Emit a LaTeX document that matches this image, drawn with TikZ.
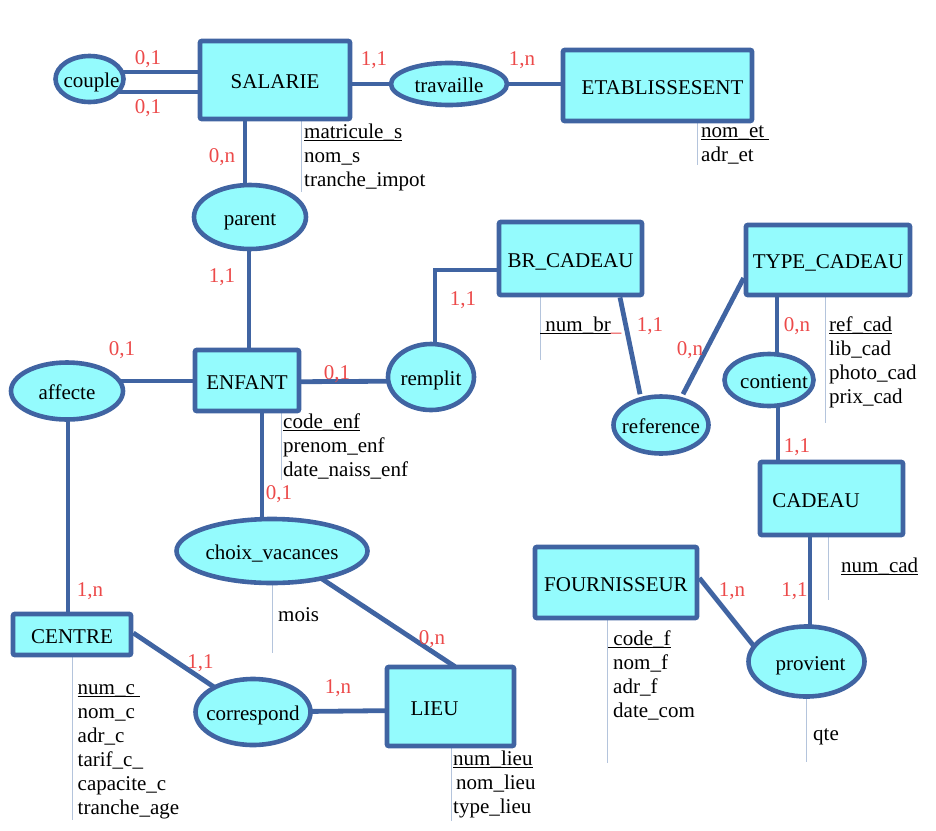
\documentclass[tikz,border=0pt]{standalone}
\usepackage{fontspec}
\setmainfont{Liberation Serif}
\usetikzlibrary{shapes.geometric}
\pgfdeclarelayer{background}
\pgfsetlayers{background,main}
\definecolor{erfill}{HTML}{94FBFD}
\definecolor{erline}{HTML}{4064A2}
\definecolor{cardred}{HTML}{EC4A4A}
\definecolor{attrgray}{HTML}{B4C4DC}
% underline drawn at the level of the underscore glyph
\newcommand\uln[1]{\setbox0\hbox{#1}\rlap{\rule[-2.7pt]{\wd0}{0.9pt}}\box0}
\begin{document}
\begin{tikzpicture}[x=1pt,y=-1pt,
  every node/.style={font=\fontsize{21}{24}\selectfont},
  boxtext/.style={text height=17pt, text depth=0pt},
  entity/.style={draw=erline, fill=erfill, line width=4.8pt, rounded corners=2pt, inner sep=0pt, boxtext},
  relation/.style={draw=erline, fill=erfill, line width=4.6pt, ellipse, inner sep=0pt, boxtext},
  link/.style={draw=erline, line width=4.8pt},
  attrline/.style={draw=attrgray, line width=0.9pt},
  card/.style={anchor=base, text=cardred, inner sep=0pt},
  attr/.style={anchor=base west, inner sep=0pt}]
\useasboundingbox (0,0) rectangle (936,830);

% ---------- entities ----------
\node[entity, minimum width=150, minimum height=78] (salarie) at (275,80) {SALARIE};
\node[entity, minimum width=189, minimum height=71,
      label={[xshift=5,boxtext]center:ETABLISSESENT}] (etab) at (657.5,85.5) {};
\node[entity, minimum width=104, minimum height=61] (enfant) at (247,380.5) {ENFANT};
\node[entity, minimum width=143, minimum height=73] (brcadeau) at (570.5,258.5) {BR\_CADEAU};
\node[entity, minimum width=164, minimum height=70] (typecadeau) at (828,260) {TYPE\_CADEAU};
\node[entity, minimum width=143, minimum height=73,
      label={[xshift=-15.5,boxtext]center:CADEAU}] (cadeau) at (831.5,498.5) {};
\node[entity, minimum width=162, minimum height=71] (fournisseur) at (616,582.5) {FOURNISSEUR};
\node[entity, minimum width=118, minimum height=41] (centre) at (72,634.5) {CENTRE};
\node[entity, minimum width=127, minimum height=79,
      label={[xshift=-16,boxtext]center:LIEU}] (lieu) at (450.5,706.5) {};

% ---------- relations ----------
\node[relation, minimum width=68, minimum height=46] (couple) at (89.5,79) {\makebox[0pt]{\hspace{4pt}couple}};
\node[relation, minimum width=116, minimum height=42] (travaille) at (449,84) {\makebox[0pt]{travaille}};
\node[relation, minimum width=112, minimum height=64] (parent) at (250,217) {\makebox[0pt]{parent}};
\node[relation, minimum width=112, minimum height=57] (affecte) at (67,391) {\makebox[0pt]{affecte}};
\node[relation, minimum width=86, minimum height=66] (remplit) at (431,377) {\makebox[0pt]{remplit}};
\node[relation, minimum width=95, minimum height=57] (reference) at (661,425) {\makebox[0pt]{reference}};
\node[relation, minimum width=89, minimum height=52] (contient) at (769,380) {\makebox[0pt]{\hspace{10pt}contient}};
\node[relation, minimum width=191, minimum height=64] (choix) at (272,551) {\makebox[0pt]{choix\_vacances}};
\node[relation, minimum width=115, minimum height=66] (correspond) at (253,712) {\makebox[0pt]{correspond}};
\node[relation, minimum width=116, minimum height=70] (provient) at (806.5,661.5) {\makebox[0pt]{\hspace{8pt}provient}};

% ---------- connectors ----------
\coordinate (rbend) at (435,270);
\begin{pgfonlayer}{background}
  \draw[link] (couple.center |- 0,72) -- (salarie.center |- 0,72);
  \draw[link] (couple.center |- 0,92) -- (salarie.center |- 0,92);
  \draw[link] (salarie.center |- travaille.center) -- (travaille.center) -- (etab.center |- travaille.center);
  \draw[link] (salarie.center -| 245,0) -- (parent.center -| 245,0);
  \draw[link] (parent.center -| 249,0) -- (enfant.center -| 249,0);
  \draw[link] (affecte.center |- 0,381) -- (enfant.center |- 0,381);
  \draw[link] (affecte.center -| 68,0) -- (centre.center -| 68,0);
  \draw[link] (enfant.center |- 0,382) -- (remplit.center |- 0,381);
  \draw[link] (remplit.center -| rbend) -- (rbend) -- (brcadeau.center |- rbend);
  \draw[link] ([xshift=49.5]brcadeau.south) -- ([xshift=-21]reference.north);
  \draw[link] ([xshift=22]reference.north) -- ([yshift=-18]typecadeau.west);
  \draw[link] (typecadeau.center -| 777,0) -- (contient.center -| 777,0);
  \draw[link] (contient.center -| 778,0) -- (cadeau.center -| 778,0);
  \draw[link] (cadeau.center -| 810,0) -- (provient.center -| 810,0);
  \draw[link] ([yshift=4.5]fournisseur.east) -- ([xshift=-45.5,yshift=6.5]provient.center);
  \draw[link] (enfant.center -| 262,0) -- (choix.center -| 262,0);
  \draw[link] ([xshift=41,yshift=-22]choix.center) -- ([xshift=4.5,yshift=-2]lieu.north);
  \draw[link] ([yshift=1.5]centre.east) -- ([xshift=-33,yshift=21]correspond.center);
  \draw[link] (correspond.center |- 0,712) -- (lieu.center |- 0,710);

  % attribute guide lines
  \draw[attrline] (salarie.center -| 301,0) -- ++(0,112);
  \draw[attrline] (etab.center -| 697,0) -- ++(0,79.5);
  \draw[attrline] (enfant.center -| 281,0) -- ++(0,99.5);
  \draw[attrline] (centre.center -| 72,0) -- ++(0,185.5);
  \draw[attrline] (lieu.center -| 451,0) -- ++(0,114.5);
  \draw[attrline] (fournisseur.center -| 607,0) -- ++(0,180.5);
  \draw[attrline] (cadeau.center -| 828,0) -- ++(0,101.5);
  \draw[attrline] (provient.center -| 806,0) -- ++(0,100.5);
  \draw[attrline] (choix.center -| 272,0) -- ++(0,102);
  \draw[attrline] (brcadeau.center -| 540,0) -- ++(0,101.5);
  \draw[attrline] (typecadeau.center -| 825,0) -- ++(0,163);
\end{pgfonlayer}

% ---------- cardinalities ----------
\node[card] (k1) at (148,64) {0,1};
\node[card] (k2) at (148,113) {0,1};
\node[card] (k3) at (374,65) {1,1};
\node[card] (k4) at (522,65) {1,n};
\node[card] (k5) at (222,162) {0,n};
\node[card] (k6) at (222,282) {1,1};
\node[card] (k7) at (122,355) {0,1};
\node[card] (k8) at (337,379) {0,1};
\node[card] (k9) at (463,305) {1,1};
\node[card] (k10) at (650,331) {1,1};
\node[card] (k11) at (690,355) {0,n};
\node[card] (k12) at (797,331) {0,n};
\node[card] (k13) at (797,452) {1,1};
\node[card] (k14) at (279,499) {0,1};
\node[card] (k15) at (90,596) {1,n};
\node[card] (k16) at (200.5,668) {1,1};
\node[card] (k17) at (338,693) {1,n};
\node[card] (k18) at (432,644) {0,n};
\node[card] (k19) at (732,596) {1,n};
\node[card] (k20) at (794.5,596) {1,1};

% ---------- attributes ----------
\node[attr] (sa1) at (304,138) {\uln{matricule\_s}};
\node[attr] (sa2) at (304,162) {nom\_s};
\node[attr] (sa3) at (304,186) {tranche\_impot};

\node[attr] (ea1) at (701,137) {\uln{nom\_et\ }};
\node[attr] (ea2) at (701,161) {adr\_et};

\node[attr] (na1) at (283,428) {\uln{code\_enf}};
\node[attr] (na2) at (283,452) {prenom\_enf};
\node[attr] (na3) at (283,476) {date\_naiss\_enf};

\node[attr] (ca1) at (77.5,694) {\uln{num\_c\ }};
\node[attr] (ca2) at (77.5,718) {nom\_c};
\node[attr] (ca3) at (77.5,742) {adr\_c};
\node[attr] (ca4) at (77.5,766) {tarif\_c\_};
\node[attr] (ca5) at (77.5,790) {capacite\_c};
\node[attr] (ca6) at (77.5,814) {tranche\_age};

\node[attr] (la1) at (453,765) {\uln{num\_lieu}};
\node[attr] (la2) at (456,789) {nom\_lieu};
\node[attr] (la3) at (453,813) {type\_lieu};

\node[attr] (fa1) at (608,645) {\uln{\ code\_f}};
\node[attr] (fa2) at (613,669) {nom\_f};
\node[attr] (fa3) at (613,693) {adr\_f};
\node[attr] (fa4) at (613,717) {date\_com};

\node[attr] (da1) at (841,572) {\uln{num\_cad}};
\node[attr] (pa1) at (813,740) {qte};
\node[attr] (va1) at (278,621) {mois};

\node[attr] (ba1) at (540,331) {\uln{\ num\_br}\textcolor{cardred}{\_}};

\node[attr] (ta1) at (829,331) {\uln{ref\_cad}};
\node[attr] (ta2) at (829,355) {lib\_cad};
\node[attr] (ta3) at (829,379) {photo\_cad};
\node[attr] (ta4) at (829,403) {prix\_cad};
\end{tikzpicture}
\end{document}
